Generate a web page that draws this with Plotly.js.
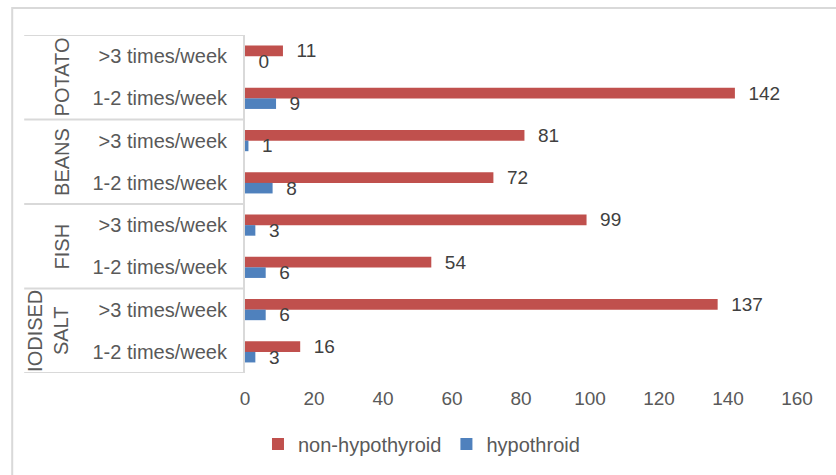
<!DOCTYPE html>
<html>
<head>
<meta charset="utf-8">
<script src="https://cdn.plot.ly/plotly-3.0.1.min.js"></script>
<style>
  html, body { margin: 0; padding: 0; background: #ffffff; }
  #chart { width: 836px; height: 475px; }
</style>
</head>
<body>
<div id="chart"></div>
<script>
// ---- data (top to bottom as shown) ----
var groups = ["POTATO", "BEANS", "FISH", "IODISED<br>SALT"];
var subLabels = [">3 times/week", "1-2 times/week"];
var rowGroup = [0, 0, 1, 1, 2, 2, 3, 3];
var rowSub = [0, 1, 0, 1, 0, 1, 0, 1];
var nonHypothyroid = [11, 142, 81, 72, 99, 54, 137, 16];
var hypothroid = [0, 9, 1, 8, 3, 6, 6, 3];
var xTicks = [0, 20, 40, 60, 80, 100, 120, 140, 160];

// ---- layout helpers (pixels -> paper) ----
var L = 245, R = 797.5, T = 35, B = 373;
var W = R - L, H = B - T;
function px(x) { return (x - L) / W; }
function py(y) { return (B - y) / H; }

var yPos = rowSub.map(function (_, i) { return i; });
var tickText = rowSub.map(function (s) { return subLabels[s]; });
var pad = "\u00a0\u00a0";

var labelFont = { family: "Liberation Sans, Arial, sans-serif", size: 19, color: "#404040" };

var traces = [
  {
    type: "bar", orientation: "h", name: "non-hypothyroid",
    x: nonHypothyroid, y: yPos,
    marker: { color: "#C0504D", line: { width: 0 } },
    text: nonHypothyroid.map(function (v) { return pad + v; }),
    textposition: "outside", constraintext: "none", cliponaxis: false,
    textfont: labelFont, hoverinfo: "x"
  },
  {
    type: "bar", orientation: "h", name: "hypothroid",
    x: hypothroid, y: yPos,
    marker: { color: "#4F81BD", line: { width: 0 } },
    text: hypothroid.map(function (v) { return pad + v; }),
    textposition: "outside", constraintext: "none", cliponaxis: false,
    textfont: labelFont, hoverinfo: "x"
  }
];

var gridCol = "#d9d9d9";
var shapes = [];
// outer frame
shapes.push({ type: "rect", xref: "paper", yref: "paper",
  x0: px(12), x1: px(840), y0: py(480), y1: py(8),
  line: { color: gridCol, width: 2 }, fillcolor: "rgba(0,0,0,0)", layer: "below" });
// table horizontal dividers
[-0.5, 1.5, 3.5, 5.5, 7.5].forEach(function (yy) {
  shapes.push({ type: "line", xref: "paper", yref: "y",
    x0: px(24), x1: 0, y0: yy, y1: yy,
    line: { color: gridCol, width: 2 } });
});

var annotations = [];
var groupX = [62, 62, 62, 48];
groups.forEach(function (g, gi) {
  var rows = yPos.filter(function (_, i) { return rowGroup[i] === gi; });
  var mid = (rows[0] + rows[rows.length - 1]) / 2;
  annotations.push({
    xref: "paper", yref: "y", x: px(groupX[gi]), y: mid,
    text: g, showarrow: false, textangle: -90,
    xanchor: "center", yanchor: "middle",
    font: { family: "Liberation Sans, Arial, sans-serif", size: 20, color: "#595959" }
  });
});

var layout = {
  width: 836, height: 475,
  margin: { l: L, r: 836 - R, t: T, b: 475 - B, pad: 0 },
  paper_bgcolor: "#ffffff", plot_bgcolor: "#ffffff",
  barmode: "group", bargap: 0.5, bargroupgap: 0,
  showlegend: true,
  legend: {
    orientation: "h", x: px(258), xanchor: "left", y: py(444), yanchor: "middle",
    font: { family: "Liberation Sans, Arial, sans-serif", size: 20, color: "#595959" },
    itemwidth: 30, traceorder: "normal",
    bgcolor: "rgba(0,0,0,0)"
  },
  xaxis: {
    range: [0, 160], tickvals: xTicks, ticktext: xTicks.map(String),
    showgrid: false, zeroline: false, showline: false, ticks: "",
    ticklabelstandoff: 12,
    tickfont: { family: "Liberation Sans, Arial, sans-serif", size: 19, color: "#595959" },
    fixedrange: true
  },
  yaxis: {
    range: [7.5, -0.5], tickvals: yPos, ticktext: tickText,
    showgrid: false, zeroline: false, showline: true, linecolor: gridCol, linewidth: 2,
    ticks: "", ticklabelstandoff: 12,
    tickfont: { family: "Liberation Sans, Arial, sans-serif", size: 20, color: "#595959" },
    fixedrange: true
  },
  shapes: shapes,
  annotations: annotations
};

Plotly.newPlot("chart", traces, layout, { displayModeBar: false, staticPlot: true });
</script>
</body>
</html>
